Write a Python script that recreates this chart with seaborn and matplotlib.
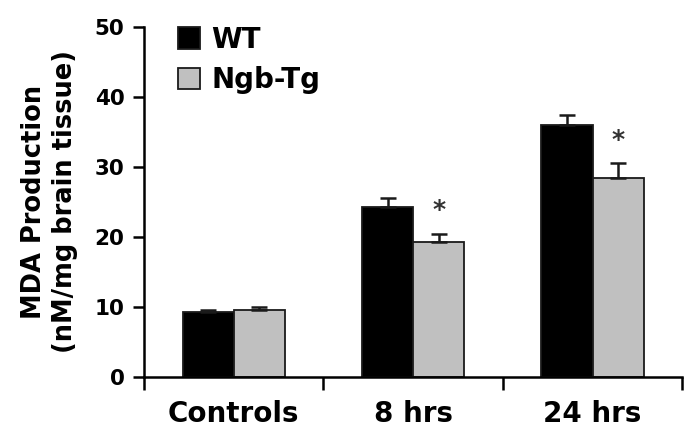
import pandas as pd
import seaborn as sns
import matplotlib.pyplot as plt
from matplotlib.ticker import FixedLocator

# values
groups = ["Controls", "8 hrs", "24 hrs"]
genotypes = ["WT", "Ngb-Tg"]
wt_mean = [9.3, 24.2, 36.0]
wt_err = [0.25, 1.4, 1.45]
tg_mean = [9.6, 19.3, 28.4]
tg_err = [0.35, 1.15, 2.1]
star_y = [None, 23.9, 33.9]

df = pd.DataFrame({
    "group": groups * 2,
    "genotype": ["WT"] * 3 + ["Ngb-Tg"] * 3,
    "mda": wt_mean + tg_mean,
})

sns.set_style("ticks")
plt.rcParams["font.family"] = ["DejaVu Sans"]
plt.rcParams["font.weight"] = "bold"
plt.rcParams["text.color"] = "black"
plt.rcParams["axes.labelcolor"] = "black"
plt.rcParams["xtick.color"] = "black"
plt.rcParams["ytick.color"] = "black"
plt.rcParams["axes.edgecolor"] = "black"

fig = plt.figure(figsize=(6.99, 4.47), dpi=100)
ax = fig.add_axes([0.206, 0.157, 0.77, 0.783])

sns.barplot(data=df, x="group", y="mda", hue="genotype", order=groups,
            hue_order=genotypes, palette=["#000000", "#c0c0c0"],
            width=0.57, errorbar=None, edgecolor="#1a1a1a", linewidth=1.3,
            ax=ax)

# one-sided error bars on top of each bar
errs = wt_err + tg_err
tops = wt_mean + tg_mean
for patch, top, e in zip(ax.patches[:6], tops, errs):
    xc = patch.get_x() + patch.get_width() / 2
    ax.errorbar(xc, top, yerr=[[0], [e]], fmt="none", ecolor="#1a1a1a",
                elinewidth=1.8, capsize=5.5, capthick=1.8)

# significance stars over Ngb-Tg bars
for patch, sy in zip(ax.patches[3:6], star_y):
    if sy is not None:
        ax.text(patch.get_x() + patch.get_width() / 2, sy, "*",
                ha="center", va="center", fontsize=18, fontweight="bold",
                color="#333333")

ax.set_ylim(0, 50)
ax.set_xlim(-0.5, 2.5)
ax.set_yticks([0, 10, 20, 30, 40, 50])
ax.tick_params(axis="y", direction="out", length=8, width=1.8, labelsize=15.5, pad=6)
ax.tick_params(axis="x", which="major", length=0, labelsize=20, pad=17)
ax.xaxis.set_minor_locator(FixedLocator([-0.5, 0.5, 1.5, 2.5]))
ax.tick_params(axis="x", which="minor", direction="out", length=9, width=1.8)
for lab in ax.get_xticklabels() + ax.get_yticklabels():
    lab.set_fontweight("bold")

sns.despine(ax=ax)
for sp in ["left", "bottom"]:
    ax.spines[sp].set_linewidth(1.8)

ax.set_xlabel("")
ax.set_ylabel("MDA Production\n(nM/mg brain tissue)", fontsize=18.5,
              fontweight="bold", labelpad=12, linespacing=1.25)

leg = ax.legend(loc="upper left", bbox_to_anchor=(0.043, 1.035), frameon=False,
                fontsize=20, handlelength=0.8, handleheight=0.8,
                handletextpad=0.4, labelspacing=0.45, borderaxespad=0)
for t in leg.get_texts():
    t.set_fontweight("bold")

fig.savefig("out.png", dpi=100)
